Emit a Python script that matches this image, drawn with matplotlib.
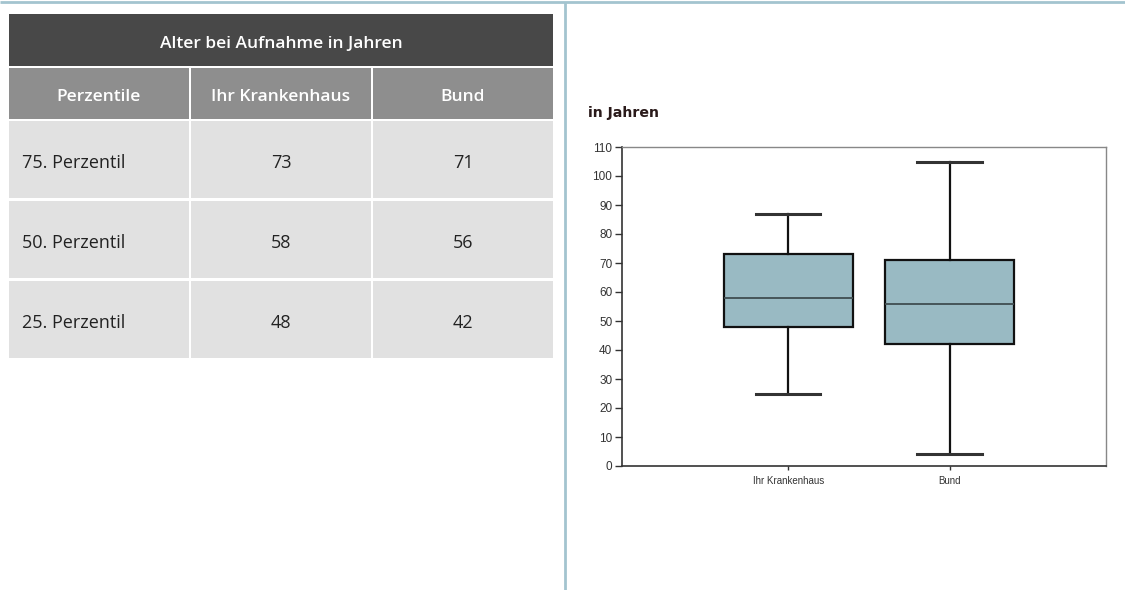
import matplotlib
matplotlib.use("Agg")
import matplotlib.pyplot as plt
from matplotlib.patches import Rectangle

# ---- data ----
table_title = "Alter bei Aufnahme in Jahren"
col_headers = ["Perzentile", "Ihr Krankenhaus", "Bund"]
row_labels = ["75. Perzentil", "50. Perzentil", "25. Perzentil"]
values_hospital = [73, 58, 48]
values_bund = [71, 56, 42]

categories = ["Ihr Krankenhaus", "Bund"]
q1 = [48, 42]
med = [58, 56]
q3 = [73, 71]
whislo = [25, 4]
whishi = [87, 105]
y_ticks = list(range(0, 111, 10))
y_label = "in Jahren"

W, H = 1125, 590
fig = plt.figure(figsize=(W / 100, H / 100), dpi=100)

# background axes in pixel coords
bg = fig.add_axes([0, 0, 1, 1])
bg.set_xlim(0, W)
bg.set_ylim(H, 0)
bg.axis("off")

sep_col = "#a3c4cf"
bg.plot([0, W], [2, 2], color=sep_col, lw=2, solid_capstyle="butt")
bg.plot([565, 565], [2, H], color=sep_col, lw=2, solid_capstyle="butt")

tfont = "Open Sans"
# title row
bg.add_patch(Rectangle((9, 14), 544, 52, facecolor="#484848", edgecolor="none"))
bg.text(281, 44, table_title, color="white", fontsize=12.5, family=tfont,
        ha="center", va="center", fontweight="semibold")
# header row
col_x = [9, 191, 373]
col_w = 180
for i, h in enumerate(col_headers):
    bg.add_patch(Rectangle((col_x[i], 68), col_w, 51, facecolor="#8e8e8e", edgecolor="none"))
    bg.text(col_x[i] + col_w / 2, 97, h, color="white", fontsize=12.5, family=tfont,
            ha="center", va="center", fontweight="semibold")
# body rows
row_y = [121, 201, 281]
row_h = 77
for r, lab in enumerate(row_labels):
    for i in range(3):
        bg.add_patch(Rectangle((col_x[i], row_y[r]), col_w, row_h, facecolor="#e1e1e1", edgecolor="none"))
    cy = row_y[r] + row_h / 2 + 4
    bg.text(22, cy, lab, color="#222222", fontsize=13, family=tfont, ha="left", va="center")
    bg.text(col_x[1] + col_w / 2, cy, str(values_hospital[r]), color="#222222", fontsize=13,
            family=tfont, ha="center", va="center")
    bg.text(col_x[2] + col_w / 2, cy, str(values_bund[r]), color="#222222", fontsize=13,
            family=tfont, ha="center", va="center")

bg.text(588, 113, y_label, color="#2a1a1a", fontsize=10.2, fontweight="bold",
        family="DejaVu Sans", ha="left", va="center")

# ---- box plot ----
ax = fig.add_axes([622 / W, 1 - 466 / H, (1106 - 622) / W, (466 - 147) / H])
stats = []
for i in range(len(categories)):
    stats.append(dict(med=med[i], q1=q1[i], q3=q3[i], whislo=whislo[i],
                      whishi=whishi[i], fliers=[], label=categories[i]))
pos = [1.03, 2.03]
ax.bxp(stats, positions=pos, widths=0.8, capwidths=0.4, patch_artist=True,
       showfliers=False,
       boxprops=dict(facecolor="#99bac3", edgecolor="#111111", linewidth=1.6),
       medianprops=dict(color="#3f4d50", linewidth=1.3),
       whiskerprops=dict(color="#111111", linewidth=1.6),
       capprops=dict(color="#333333", linewidth=2.2))
ax.set_xlim(0, 3)
ax.set_ylim(0, 110)
ax.set_yticks(y_ticks)
ax.set_yticklabels([str(v) for v in y_ticks], fontsize=8.5, color="#333333", family="Liberation Sans")
ax.set_xticks(pos)
ax.set_xticklabels(categories, fontsize=7, color="#333333", family="Liberation Sans")
ax.tick_params(axis="y", length=5, width=1, color="#333333", pad=2)
ax.tick_params(axis="x", length=3, width=1, color="#333333", pad=4)
for s in ["left", "bottom"]:
    ax.spines[s].set_color("#333333")
    ax.spines[s].set_linewidth(1.2)
for s in ["top", "right"]:
    ax.spines[s].set_color("#888888")
    ax.spines[s].set_linewidth(1.0)

fig.savefig("out.png", dpi=100)
